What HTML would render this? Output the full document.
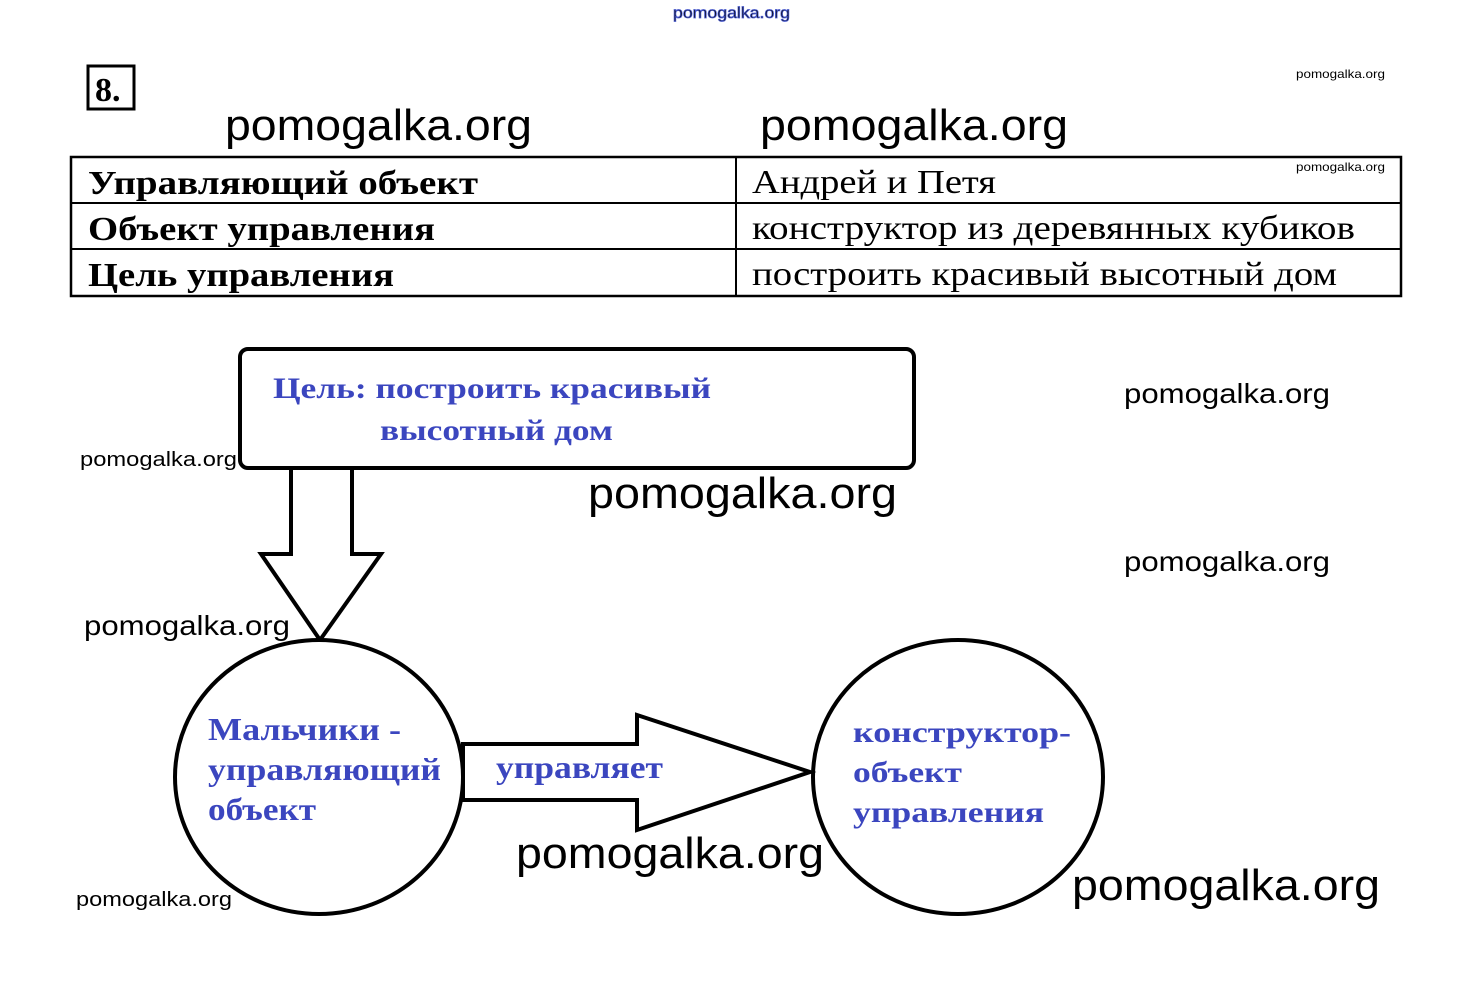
<!DOCTYPE html>
<html><head><meta charset="utf-8"><style>
html,body{margin:0;padding:0;background:#fff;}
svg{display:block;}
.wm{font-family:"Liberation Sans",sans-serif;fill:#000;}
.sr{font-family:"Liberation Serif","DejaVu Serif",serif;}
.bl{fill:#3b46bf;font-weight:bold;}
</style></head><body>
<svg width="1460" height="981" viewBox="0 0 1460 981" xmlns="http://www.w3.org/2000/svg">
<rect width="1460" height="981" fill="#fff"/>
<text x="673" y="18" class="wm" font-size="16" textLength="117" lengthAdjust="spacingAndGlyphs" fill="#fff" stroke="#4a5bd0" stroke-width="0.8">pomogalka.org</text>
<rect x="88" y="66" width="46" height="43" fill="none" stroke="#000" stroke-width="3"/>
<text x="95" y="101" class="sr" font-size="34" font-weight="bold">8.</text>
<text x="1296" y="78" class="wm" font-size="12" textLength="89" lengthAdjust="spacingAndGlyphs">pomogalka.org</text>
<text x="225" y="140" class="wm" font-size="44" textLength="307" lengthAdjust="spacingAndGlyphs">pomogalka.org</text>
<text x="760" y="140" class="wm" font-size="44" textLength="308" lengthAdjust="spacingAndGlyphs">pomogalka.org</text>
<!-- table -->
<rect x="71" y="157" width="1330" height="139" fill="none" stroke="#000" stroke-width="2.5"/>
<line x1="71" y1="203" x2="1401" y2="203" stroke="#000" stroke-width="2"/>
<line x1="71" y1="249" x2="1401" y2="249" stroke="#000" stroke-width="2"/>
<line x1="736" y1="157" x2="736" y2="296" stroke="#000" stroke-width="2"/>
<text x="88" y="194" class="sr" font-size="34" font-weight="bold" textLength="390" lengthAdjust="spacingAndGlyphs">Управляющий объект</text>
<text x="88" y="240" class="sr" font-size="34" font-weight="bold" textLength="347" lengthAdjust="spacingAndGlyphs">Объект управления</text>
<text x="88" y="286" class="sr" font-size="34" font-weight="bold" textLength="306" lengthAdjust="spacingAndGlyphs">Цель управления</text>
<text x="752" y="193" class="sr" font-size="34" textLength="244" lengthAdjust="spacingAndGlyphs">Андрей и Петя</text>
<text x="752" y="239" class="sr" font-size="34" textLength="603" lengthAdjust="spacingAndGlyphs">конструктор из деревянных кубиков</text>
<text x="752" y="285" class="sr" font-size="34" textLength="585" lengthAdjust="spacingAndGlyphs">построить красивый высотный дом</text>
<text x="1296" y="171" class="wm" font-size="12" textLength="89" lengthAdjust="spacingAndGlyphs">pomogalka.org</text>
<!-- goal box -->
<rect x="240" y="349" width="674" height="119" rx="8" fill="#fff" stroke="#000" stroke-width="4"/>
<text x="273" y="398" class="sr bl" font-size="30" textLength="438" lengthAdjust="spacingAndGlyphs">Цель: построить красивый</text>
<text x="380" y="440" class="sr bl" font-size="30" textLength="233" lengthAdjust="spacingAndGlyphs">высотный дом</text>
<text x="80" y="466" class="wm" font-size="20" textLength="157" lengthAdjust="spacingAndGlyphs">pomogalka.org</text>
<text x="1124" y="403" class="wm" font-size="28" textLength="206" lengthAdjust="spacingAndGlyphs">pomogalka.org</text>
<text x="588" y="508" class="wm" font-size="44" textLength="309" lengthAdjust="spacingAndGlyphs">pomogalka.org</text>
<text x="1124" y="571" class="wm" font-size="28" textLength="206" lengthAdjust="spacingAndGlyphs">pomogalka.org</text>
<!-- down arrow -->
<polygon points="291,468 352,468 352,554 381,554 320,640 261,554 291,554" fill="#fff" stroke="#000" stroke-width="4" stroke-linejoin="miter"/>
<text x="84" y="635" class="wm" font-size="28" textLength="206" lengthAdjust="spacingAndGlyphs">pomogalka.org</text>
<!-- circles -->
<ellipse cx="319" cy="777" rx="144" ry="137" fill="#fff" stroke="#000" stroke-width="4"/>
<ellipse cx="958" cy="777" rx="145" ry="137" fill="#fff" stroke="#000" stroke-width="4"/>
<!-- right arrow -->
<polygon points="463,744 637,744 637,715 810,772 637,830 637,800 463,800" fill="#fff" stroke="#000" stroke-width="4"/>
<text x="208" y="740" class="sr bl" font-size="32" textLength="193" lengthAdjust="spacingAndGlyphs">Мальчики -</text>
<text x="208" y="780" class="sr bl" font-size="32" textLength="233" lengthAdjust="spacingAndGlyphs">управляющий</text>
<text x="208" y="820" class="sr bl" font-size="32" textLength="108" lengthAdjust="spacingAndGlyphs">объект</text>
<text x="496" y="778" class="sr bl" font-size="32" textLength="167" lengthAdjust="spacingAndGlyphs">управляет</text>
<text x="853" y="742" class="sr bl" font-size="30" textLength="218" lengthAdjust="spacingAndGlyphs">конструктор-</text>
<text x="853" y="782" class="sr bl" font-size="30" textLength="109" lengthAdjust="spacingAndGlyphs">объект</text>
<text x="853" y="822" class="sr bl" font-size="30" textLength="191" lengthAdjust="spacingAndGlyphs">управления</text>
<text x="516" y="868" class="wm" font-size="44" textLength="308" lengthAdjust="spacingAndGlyphs">pomogalka.org</text>
<text x="1072" y="900" class="wm" font-size="44" textLength="308" lengthAdjust="spacingAndGlyphs">pomogalka.org</text>
<text x="76" y="906" class="wm" font-size="20" textLength="156" lengthAdjust="spacingAndGlyphs">pomogalka.org</text>
</svg>
</body></html>
